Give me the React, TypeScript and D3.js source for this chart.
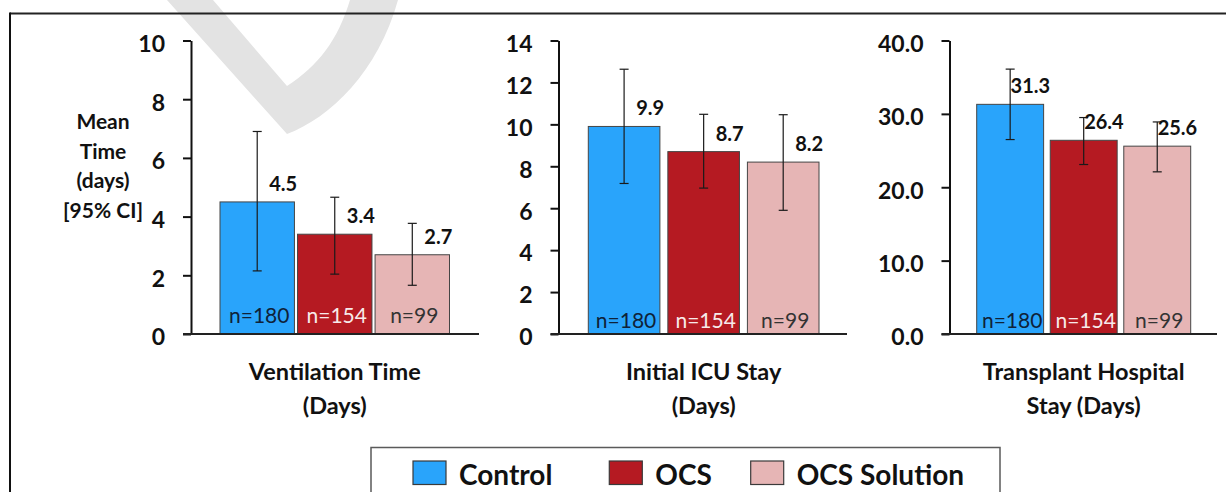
import { useRef, useEffect } from "react";
import * as d3 from "d3";

// groups / legend
const groups = ["Control", "OCS", "OCS Solution"];
const groupColors = ["#29a4fb", "#b51a22", "#e6b5b5"];
const nTextColors = ["#0f2238", "#f7eaea", "#333333"];
const sampleSizes = [180, 154, 99];

// ventilation time (days)
const ventMean = [4.5, 3.4, 2.7];
const ventLow = [2.15, 2.04, 1.66];
const ventHigh = [6.9, 4.66, 3.77];
const ventTicks = [0, 2, 4, 6, 8, 10];

// initial ICU stay (days)
const icuMean = [9.9, 8.7, 8.2];
const icuLow = [7.18, 6.96, 5.9];
const icuHigh = [12.63, 10.48, 10.46];
const icuTicks = [0, 2, 4, 6, 8, 10, 12, 14];

// transplant hospital stay (days)
const hospMean = [31.3, 26.4, 25.6];
const hospLow = [26.5, 23.1, 22.1];
const hospHigh = [36.1, 29.5, 28.9];
const hospTicks = [0, 10, 20, 30, 40];

const panelTitles = [
  ["Ventilation Time", "(Days)"],
  ["Initial ICU Stay", "(Days)"],
  ["Transplant Hospital", "Stay (Days)"],
];
const yTitleLines = ["Mean", "Time", "(days)", "[95% CI]"];

const App = () => {
  const container = useRef(null);

  useEffect(() => {
    document.body.style.margin = "0";
    createChart();
  });

  const createChart = () => {
    const node = container.current;
    const dims = { width: 1226, height: 492 };
    const yTop = 40.5;
    const yBottom = 334;

    const panels = [
      { title: panelTitles[0], mean: ventMean, low: ventLow, high: ventHigh, ticks: ventTicks, fmt: d3.format("d"),
        axisX: 191, from: 220, to: 449.5, inner: 0.04, lineTo: 479, nOff: 11 },
      { title: panelTitles[1], mean: icuMean, low: icuLow, high: icuHigh, ticks: icuTicks, fmt: d3.format("d"),
        axisX: 558.5, from: 588.3, to: 819, inner: 0.1, lineTo: 847, nOff: 6 },
      { title: panelTitles[2], mean: hospMean, low: hospLow, high: hospHigh, ticks: hospTicks, fmt: d3.format(".1f"),
        axisX: 949.5, from: 976.7, to: 1190.7, inner: 0.09, lineTo: 1217, nOff: 6 },
    ];

    const svg = d3
      .select(node)
      .selectAll("svg")
      .data([0])
      .join("svg")
      .attr("width", dims.width)
      .attr("height", dims.height)
      .style("display", "block")
      .style("font-family", "Lato, 'Open Sans', sans-serif");

    svg.selectAll("*").remove();

    // faint watermark behind everything
    svg
      .append("path")
      .attr("d", "M167,0 L287,134 C330,118 378,72 398,0 L350,0 C338,40 318,66 287,86 L213,0 Z")
      .attr("fill", "#e3e3e3");

    // frame
    svg.append("line").attr("x1", 10).attr("x2", dims.width).attr("y1", 13.5).attr("y2", 13.5)
      .attr("stroke", "#222").attr("stroke-width", 2);
    svg.append("line").attr("x1", 10).attr("x2", 10).attr("y1", 12.5).attr("y2", dims.height)
      .attr("stroke", "#111").attr("stroke-width", 2);

    panels.forEach((p) => {
      const yScale = d3.scaleLinear().domain([0, p.ticks[p.ticks.length - 1]]).range([yBottom, yTop]);
      const xScale = d3.scaleBand().domain(groups).range([p.from, p.to]).paddingInner(p.inner);
      const bw = xScale.bandwidth();
      const rows = groups.map((g, i) => ({
        g, i, mean: p.mean[i], low: p.low[i], high: p.high[i], n: sampleSizes[i],
      }));

      const g = svg.append("g");

      g.selectAll(".bar")
        .data(rows)
        .join("rect")
        .attr("class", "bar")
        .attr("x", (d) => xScale(d.g))
        .attr("y", (d) => yScale(d.mean))
        .attr("width", bw)
        .attr("height", (d) => yScale(0) - yScale(d.mean))
        .attr("fill", (d) => groupColors[d.i])
        .attr("stroke", "#454545")
        .attr("stroke-width", 1);

      // n labels
      g.selectAll(".nlab")
        .data(rows)
        .join("text")
        .attr("class", "nlab")
        .attr("x", (d) => xScale(d.g) + bw / 2 + 2)
        .attr("y", yScale(0) - p.nOff)
        .attr("text-anchor", "middle")
        .attr("font-size", 21)
        .attr("fill", (d) => nTextColors[d.i])
        .text((d) => `n=${d.n}`);

      // error bars
      const cx = (d) => xScale(d.g) + bw / 2;
      g.selectAll(".err")
        .data(rows)
        .join("line")
        .attr("class", "err")
        .attr("x1", cx).attr("x2", cx)
        .attr("y1", (d) => yScale(d.low))
        .attr("y2", (d) => yScale(d.high))
        .attr("stroke", "#1a1a1a").attr("stroke-width", 1.2);
      ["low", "high"].forEach((k) => {
        g.selectAll(".cap-" + k)
          .data(rows)
          .join("line")
          .attr("class", "cap-" + k)
          .attr("x1", (d) => cx(d) - 4.5).attr("x2", (d) => cx(d) + 4.5)
          .attr("y1", (d) => yScale(d[k])).attr("y2", (d) => yScale(d[k]))
          .attr("stroke", "#1a1a1a").attr("stroke-width", 1.2);
      });

      // value labels
      g.selectAll(".val")
        .data(rows)
        .join("text")
        .attr("class", "val")
        .attr("x", (d) => cx(d) + 40)
        .attr("y", (d) => yScale(d.mean) - 11)
        .attr("text-anchor", "end")
        .attr("font-size", 20)
        .attr("font-weight", "bold")
        .attr("fill", "#111")
        .text((d) => d.mean.toFixed(1));

      // y axis
      const yaxis = d3.axisLeft(yScale).tickValues(p.ticks).tickFormat(p.fmt)
        .tickSize(8).tickSizeOuter(0).tickPadding(18);
      const yaxisg = g.append("g")
        .attr("transform", `translate(${p.axisX},0)`)
        .call(yaxis);
      yaxisg.select(".domain").attr("stroke", "#111").attr("stroke-width", 2);
      yaxisg.selectAll(".tick line").attr("stroke", "#111").attr("stroke-width", 2);
      yaxisg.selectAll(".tick text")
        .attr("dy", "0.47em")
        .attr("font-size", 23)
        .attr("font-weight", "bold")
        .attr("font-family", "Lato, sans-serif")
        .attr("fill", "#111");

      // baseline
      g.append("line")
        .attr("x1", p.axisX - 8).attr("x2", p.lineTo)
        .attr("y1", yScale(0)).attr("y2", yScale(0))
        .attr("stroke", "#222").attr("stroke-width", 2);

      // category title
      g.selectAll(".ptitle")
        .data(p.title)
        .join("text")
        .attr("class", "ptitle")
        .attr("x", (p.from + p.to) / 2)
        .attr("y", (d, i) => 380 + i * 34)
        .attr("text-anchor", "middle")
        .attr("font-size", 23.5)
        .attr("font-weight", "bold")
        .attr("fill", "#111")
        .text((d) => d);
    });

    // y axis title
    svg.selectAll(".ytitle")
      .data(yTitleLines)
      .join("text")
      .attr("class", "ytitle")
      .attr("x", 103)
      .attr("y", (d, i) => 129 + i * 29.6)
      .attr("text-anchor", "middle")
      .attr("font-size", 21)
      .attr("font-weight", "bold")
      .attr("fill", "#111")
      .text((d) => d);

    // legend
    const legendX = [413, 609.3, 750.7];
    svg.append("rect")
      .attr("x", 371).attr("y", 447.5)
      .attr("width", 629).attr("height", 60)
      .attr("fill", "none").attr("stroke", "#5a5a5a").attr("stroke-width", 1.5);
    const lg = svg.selectAll(".leg")
      .data(groups)
      .join("g")
      .attr("class", "leg")
      .attr("transform", (d, i) => `translate(${legendX[i]},0)`);
    lg.append("rect")
      .attr("x", 0).attr("y", 461)
      .attr("width", 33).attr("height", 23.5)
      .attr("fill", (d, i) => groupColors[i])
      .attr("stroke", "#3a3a3a").attr("stroke-width", 1.2);
    lg.append("text")
      .attr("x", 46).attr("y", 484.5)
      .attr("font-size", 28)
      .attr("font-weight", "bold")
      .attr("fill", "#111")
      .text((d) => d);

    return;
  };

  return <div ref={container}></div>;
};

export default App;
